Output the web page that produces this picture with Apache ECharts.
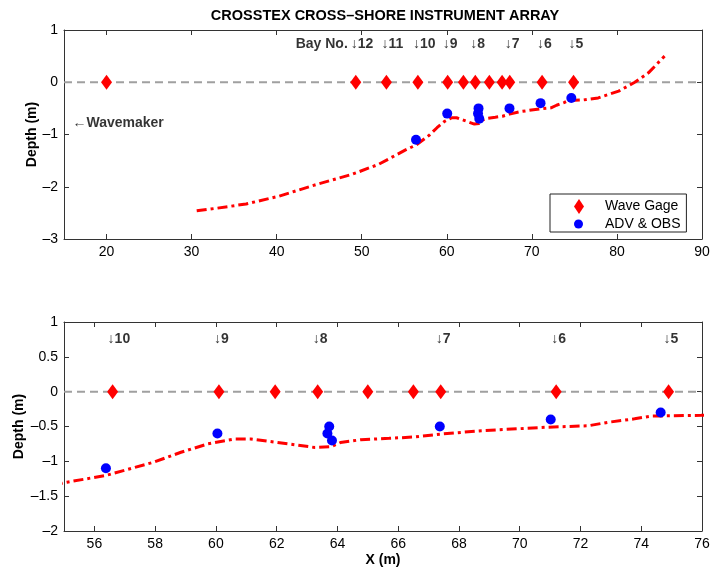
<!DOCTYPE html>
<html>
<head>
<meta charset="utf-8">
<script src="https://cdn.jsdelivr.net/npm/echarts@6/dist/echarts.min.js"></script>
<style>
  html, body { margin: 0; padding: 0; background: #fff; }
  #chart { width: 713px; height: 569px; }
</style>
</head>
<body>
<div id="chart"></div>
<script>
// Bottom profile along the flume (x in m, depth in m)
const profileX = [30.6, 33.0, 36.4, 40.3, 44.2, 48.9, 52.0, 55.1, 56.4, 57.97, 58.85, 59.73,
  60.6, 61.15, 62.03, 63.24, 63.79, 64.1, 64.77, 65.7, 66.55, 67.37, 68.74, 70.93, 72.25,
  72.9, 73.78, 74.33, 75.97, 77.8, 80.2, 82.1, 83.7, 85.6];
const profileDepth = [-2.46, -2.41, -2.33, -2.18, -1.98, -1.76, -1.57, -1.3, -1.2, -1.01, -0.87, -0.75,
  -0.68, -0.68, -0.73, -0.8, -0.79, -0.73, -0.69, -0.67, -0.65, -0.61, -0.56, -0.51, -0.49,
  -0.44, -0.39, -0.35, -0.34, -0.3, -0.17, 0.0, 0.18, 0.5];

// Wave gages sit at the still water level
const gaugeX = [20, 49.3, 52.9, 56.6, 60.1, 61.95, 63.35, 65.0, 66.5, 67.4, 71.2, 74.9];
const gaugeDepth = [0, 0, 0, 0, 0, 0, 0, 0, 0, 0, 0, 0];

// ADV & OBS sensor positions
const advX = [56.38, 60.05, 63.73, 63.67, 63.82, 67.37, 71.02, 74.64];
const advDepth = [-1.1, -0.6, -0.5, -0.6, -0.7, -0.5, -0.4, -0.3];

// Bay numbering
const bayNo = [12, 11, 10, 9, 8, 7, 6, 5];
const bayX = [49.3, 52.9, 56.6, 60.1, 63.35, 67.4, 71.2, 74.9];

// Tick labels
const topXTicks = [20, 30, 40, 50, 60, 70, 80, 90];
const bottomXTicks = [56, 58, 60, 62, 64, 66, 68, 70, 72, 74, 76];

const FONT = 'Liberation Sans, Arial, sans-serif';
const AXIS_COLOR = '#333';
const fmt = v => String(v).replace('-', '\u2013');

function zip(xs, ys) { return xs.map((x, i) => [x, ys[i]]); }

const chart = echarts.init(document.getElementById('chart'));

const panels = [
  { top: 30, height: 209, xMin: 15, xMax: 90, xTicks: topXTicks, yMin: -3, yMax: 1, yStep: 1, bayY: 0.73, nameGap: 25 },
  { top: 322, height: 209, xMin: 55, xMax: 76, xTicks: bottomXTicks, yMin: -2, yMax: 1, yStep: 0.5, bayY: 0.75, nameGap: 38 }
];

const grid = [], xAxis = [], yAxis = [], series = [];

panels.forEach((p, g) => {
  grid.push({ left: 64, width: 638, top: p.top, height: p.height, containLabel: false, outerBoundsMode: 'none' });
  const axisLine = { onZero: false, lineStyle: { color: AXIS_COLOR, width: 1 } };
  const tick = { inside: true, length: 5, lineStyle: { color: AXIS_COLOR } };
  const label = { color: '#000', fontFamily: FONT, fontSize: 14, margin: 6, formatter: fmt };
  // bottom x axis with labels
  xAxis.push({
    gridIndex: g, type: 'value', position: 'bottom', min: p.xMin, max: p.xMax,
    axisLine, splitLine: { show: false },
    axisTick: Object.assign({ customValues: p.xTicks }, tick),
    axisLabel: Object.assign({ customValues: p.xTicks }, label),
    name: g === 1 ? 'X (m)' : '', nameLocation: 'middle', nameGap: 22, nameMoveOverlap: false,
    nameTextStyle: { fontFamily: FONT, fontSize: 14, fontWeight: 'bold', color: '#000' }
  });
  // top x axis closing the frame
  xAxis.push({
    gridIndex: g, type: 'value', position: 'top', min: p.xMin, max: p.xMax,
    axisLine, splitLine: { show: false },
    axisTick: Object.assign({ customValues: p.xTicks }, tick),
    axisLabel: { show: false }
  });
  yAxis.push({
    gridIndex: g, type: 'value', position: 'left', min: p.yMin, max: p.yMax, interval: p.yStep,
    axisLine, splitLine: { show: false }, axisTick: tick, axisLabel: label,
    name: 'Depth (m)', nameLocation: 'middle', nameGap: p.nameGap, nameMoveOverlap: false,
    nameTextStyle: { fontFamily: FONT, fontSize: 14, fontWeight: 'bold', color: '#000' }
  });
  yAxis.push({
    gridIndex: g, type: 'value', position: 'right', min: p.yMin, max: p.yMax, interval: p.yStep,
    axisLine, splitLine: { show: false }, axisTick: tick, axisLabel: { show: false }
  });

  const xi = g * 2, yi = g * 2;

  // still water level
  series.push({
    name: 'SWL', type: 'line', xAxisIndex: xi, yAxisIndex: yi, z: 1,
    data: [[p.xMin, 0], [p.xMax, 0]], symbol: 'none', silent: true,
    lineStyle: { color: '#a0a0a0', width: 2, type: [8, 5] }
  });
  // bottom profile
  series.push({
    name: 'Profile', type: 'line', xAxisIndex: xi, yAxisIndex: yi, z: 2,
    data: zip(profileX, profileDepth), symbol: 'none', clip: true,
    lineStyle: { color: '#ff0000', width: 3, type: [10, 4, 3, 4] }
  });
  series.push({
    name: 'Wave Gage', type: 'scatter', xAxisIndex: xi, yAxisIndex: yi, z: 3,
    data: zip(gaugeX, gaugeDepth), symbol: 'diamond', symbolSize: [11, 15],
    itemStyle: { color: '#ff0000', opacity: 1 }
  });
  series.push({
    name: 'ADV & OBS', type: 'scatter', xAxisIndex: xi, yAxisIndex: yi, z: 4,
    data: zip(advX, advDepth), symbol: 'circle', symbolSize: 10,
    itemStyle: { color: '#0000ff', opacity: 1 }
  });

  // bay labels
  const bays = bayX.map((x, i) => ({ value: [x, p.bayY], name: '\u2193' + bayNo[i] }))
    .filter(d => d.value[0] >= p.xMin && d.value[0] <= p.xMax);
  series.push({
    name: 'Bays', type: 'scatter', xAxisIndex: xi, yAxisIndex: yi, z: 5,
    data: bays, symbolSize: 0, silent: true,
    label: {
      show: true, position: 'inside', align: 'left', verticalAlign: 'middle', offset: [-5, 0],
      formatter: d => d.name, fontFamily: FONT, fontSize: 14, fontWeight: 'bold', color: '#000'
    }
  });

  if (g === 0) {
    series.push({
      name: 'Notes', type: 'scatter', xAxisIndex: xi, yAxisIndex: yi, z: 5,
      symbolSize: 0, silent: true,
      data: [
        { value: [bayX[0], p.bayY], name: 'Bay No.', label: { align: 'right', offset: [-8, 0] } },
        { value: [16, -0.78], name: '\u2190Wavemaker', label: { align: 'left', offset: [0, 0] } }
      ],
      label: {
        show: true, position: 'inside', verticalAlign: 'middle',
        formatter: d => d.name, fontFamily: FONT, fontSize: 14, fontWeight: 'bold', color: '#000'
      }
    });
  }
});

chart.setOption({
  animation: false,
  title: {
    text: 'CROSSTEX CROSS\u2013SHORE INSTRUMENT ARRAY',
    left: 380, top: 3, textAlign: 'center',
    textStyle: { fontFamily: FONT, fontSize: 14.5, fontWeight: 'bold', color: '#000' }
  },
  grid, xAxis, yAxis, series,
  legend: [
    {
      data: [{ name: 'Wave Gage', icon: 'diamond' }],
      orient: 'vertical', left: 550, top: 194, padding: [5, 8, 18, 24],
      itemWidth: 10, itemHeight: 15,
      borderColor: '#222', borderWidth: 1, borderRadius: 0, backgroundColor: '#fff',
      selectedMode: false,
      textStyle: { fontFamily: FONT, fontSize: 14, color: '#000', padding: [0, 0, 0, 16] }
    },
    {
      data: [{ name: 'ADV & OBS', icon: 'circle' }],
      orient: 'vertical', left: 574, top: 217, padding: 0,
      itemWidth: 9, itemHeight: 9,
      selectedMode: false,
      textStyle: { fontFamily: FONT, fontSize: 14, color: '#000', padding: [0, 0, 0, 17] }
    }
  ]
});
</script>
</body>
</html>
